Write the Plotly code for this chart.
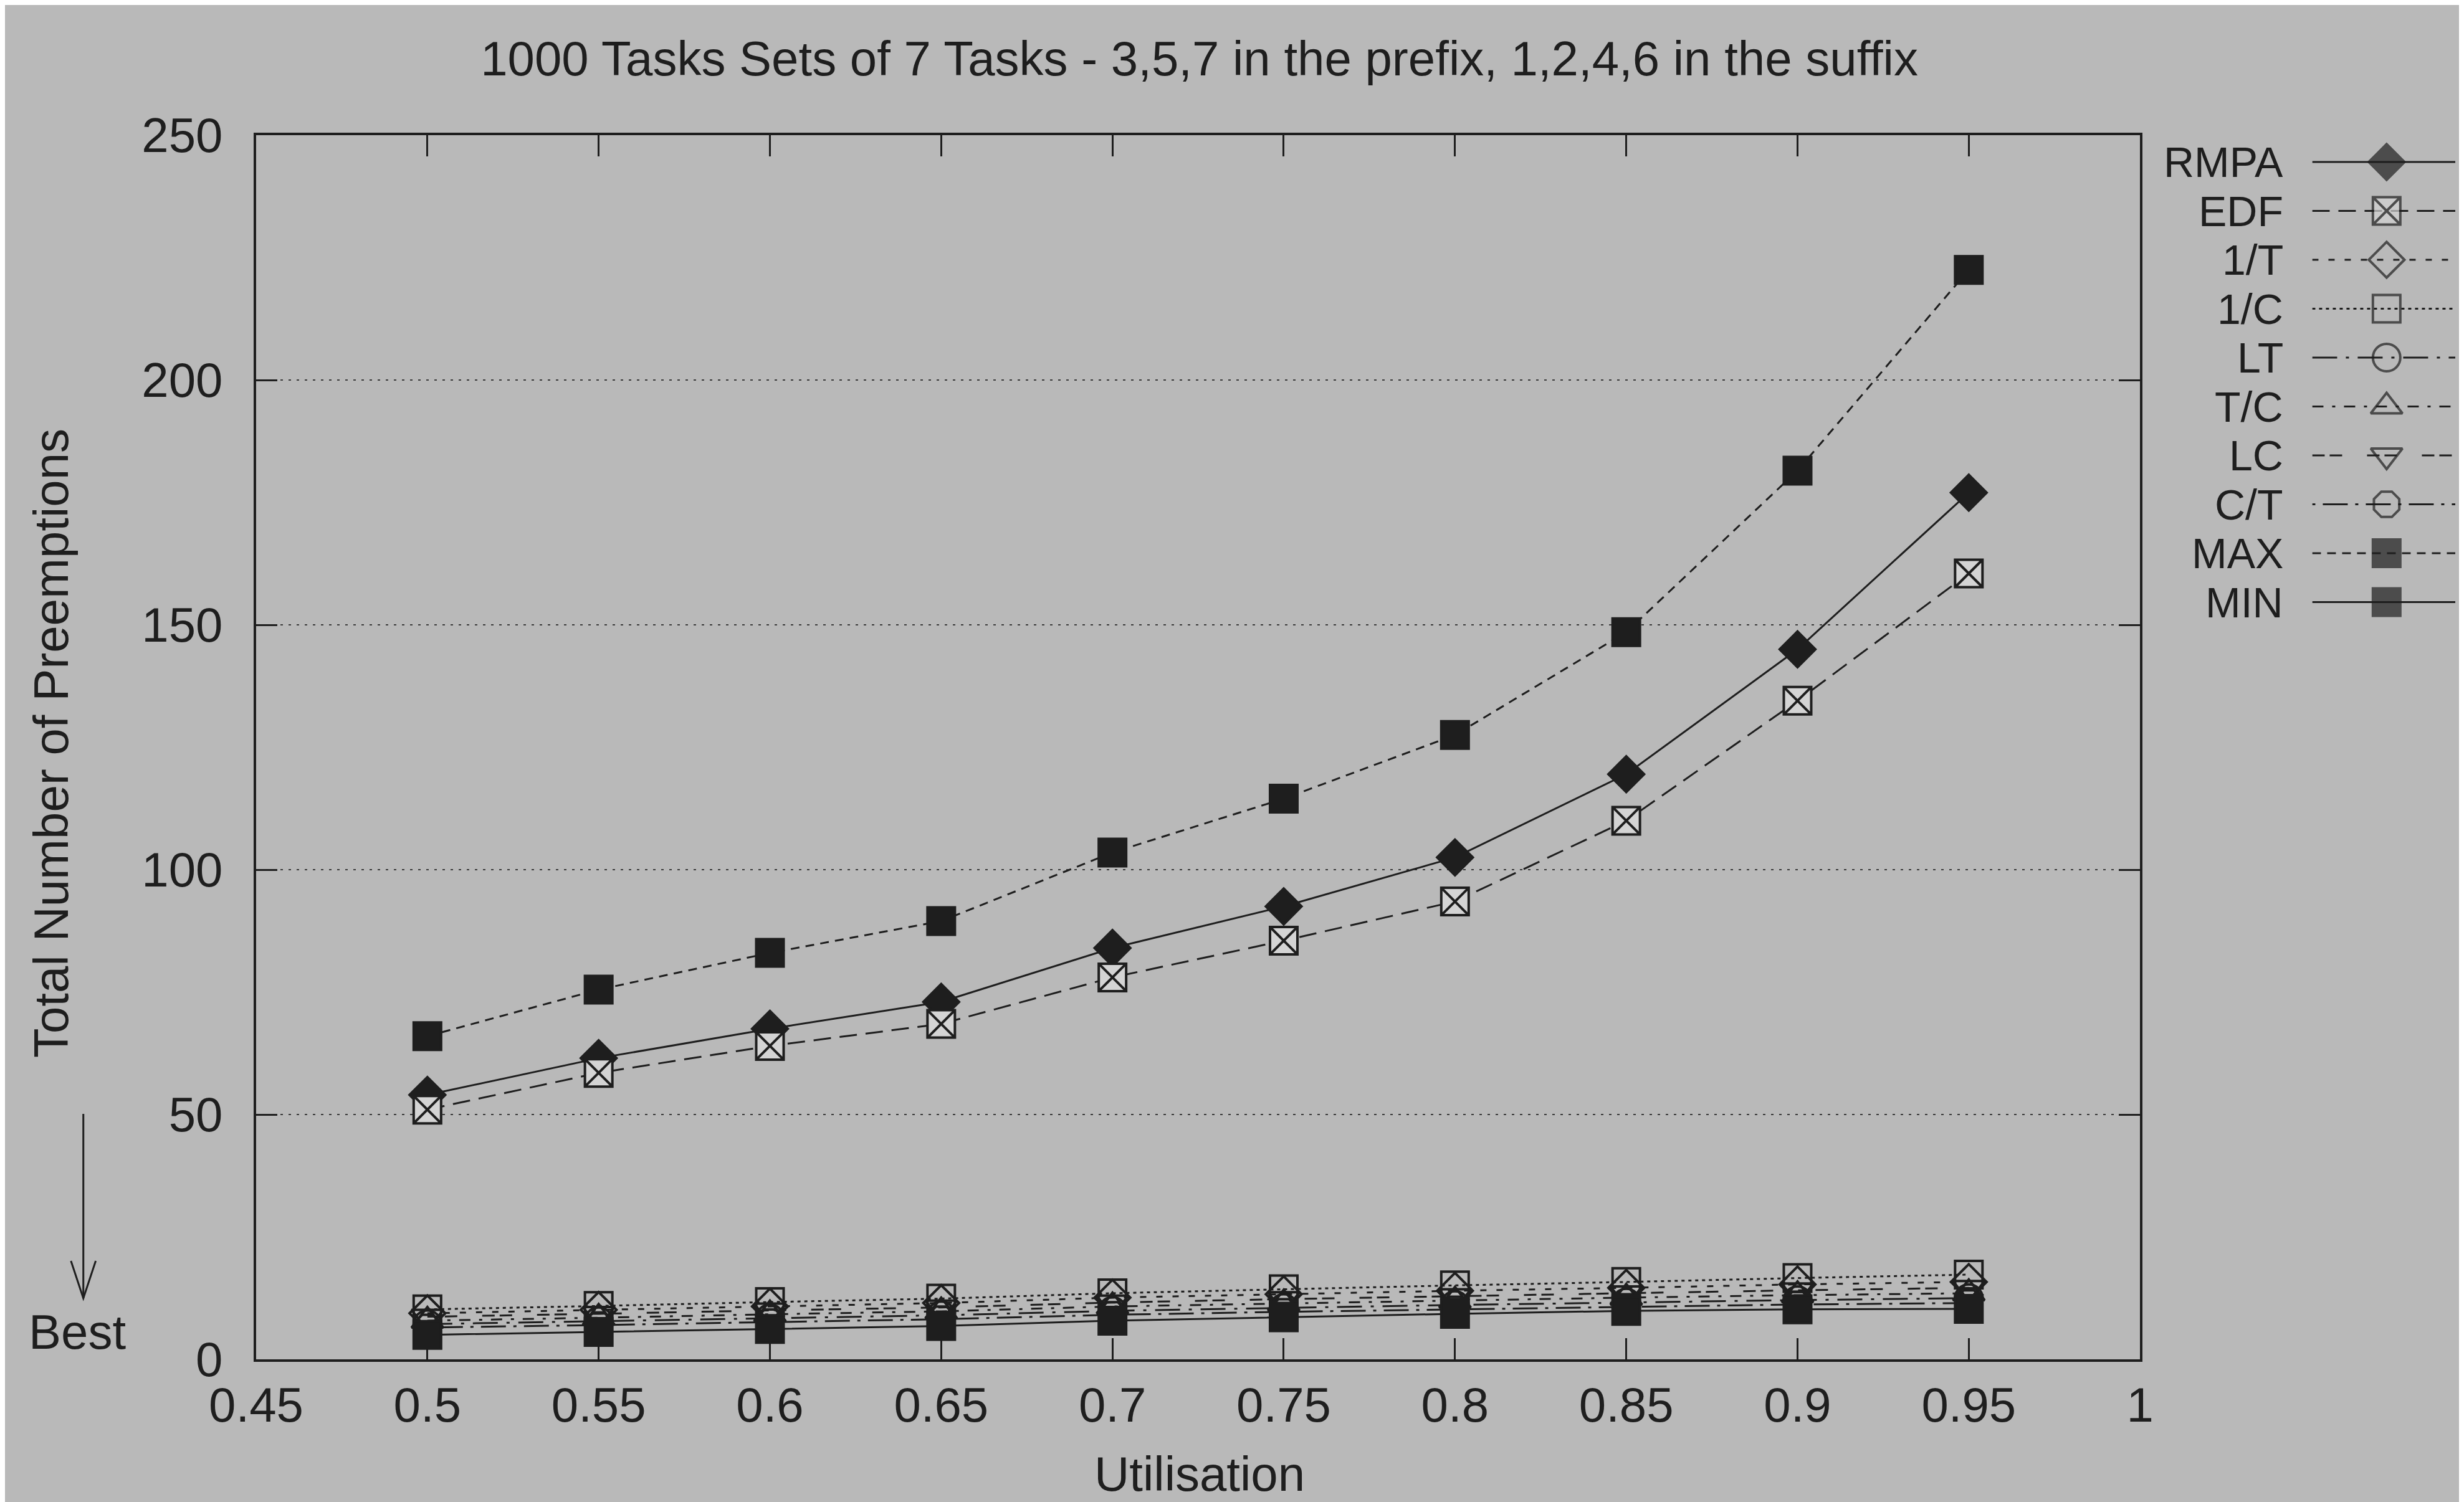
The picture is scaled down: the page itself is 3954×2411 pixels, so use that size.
import plotly.graph_objects as go

# ---------------- data ----------------
utilisation = [0.5, 0.55, 0.6, 0.65, 0.7, 0.75, 0.8, 0.85, 0.9, 0.95]
series_names = ["RMPA", "EDF", "1/T", "1/C", "LT", "T/C", "LC", "C/T", "MAX", "MIN"]
rmpa = [54, 61.5, 67.5, 73, 84, 92.5, 102.5, 119.5, 145, 177]
edf = [51, 58.5, 64, 68.5, 78, 85.5, 93.5, 110, 134.5, 160.5]
inv_t = [9.4, 10.1, 10.8, 11.5, 12.6, 13.3, 14.0, 14.6, 15.3, 15.8]
inv_c = [10.2, 10.9, 11.7, 12.4, 13.5, 14.3, 15.1, 15.8, 16.6, 17.3]
lt = [7.2, 7.8, 8.4, 9.0, 9.9, 10.5, 11.1, 11.6, 12.1, 12.5]
t_over_c = [7.9, 8.5, 9.2, 9.8, 10.8, 11.4, 12.0, 12.6, 13.1, 13.5]
lc = [8.7, 9.3, 10.0, 10.6, 11.6, 12.3, 12.9, 13.5, 14.1, 14.6]
c_over_t = [6.5, 7.0, 7.6, 8.2, 9.1, 9.7, 10.2, 10.7, 11.2, 11.5]
max_vals = [66, 75.5, 83, 89.5, 103.5, 114.5, 127.5, 148.5, 181.5, 222.5]
min_vals = [5.0, 5.6, 6.2, 6.8, 7.9, 8.6, 9.3, 9.9, 10.2, 10.3]
series_values = [rmpa, edf, inv_t, inv_c, lt, t_over_c, lc, c_over_t, max_vals, min_vals]

x_tick_vals = [0.45, 0.5, 0.55, 0.6, 0.65, 0.7, 0.75, 0.8, 0.85, 0.9, 0.95, 1.0]
x_tick_text = ["0.45", "0.5", "0.55", "0.6", "0.65", "0.7", "0.75", "0.8", "0.85", "0.9", "0.95", "1"]
y_tick_vals = [0, 50, 100, 150, 200, 250]

title_text = "1000 Tasks Sets of 7 Tasks - 3,5,7 in the prefix, 1,2,4,6 in the suffix"

# ---------------- style ----------------
W, H = 3954, 2411
ML, MT, MB, MR = 403, 209, 237, 0
PLOT_RIGHT = 3445
PAPER_W = W - ML - MR
PAPER_H = H - MT - MB
BG = "#b9b9b9"
INK = "#1e1e1e"
FONT = "Liberation Sans, Arial, Helvetica, sans-serif"
FS = 78
LEG_FS = 68
MS = 44

def px_x(px):
    return (px - ML) / PAPER_W

def px_y(py):
    return 1 - (py - MT) / PAPER_H

styles = {
    "RMPA": dict(symbol="diamond", dash="solid", fill=INK, lw=3),
    "EDF": dict(symbol="square-x", dash="28px,14px", fill="#d4d4d4", lw=3),
    "1/T": dict(symbol="diamond-open", dash="10px,16px", fill=INK, lw=3),
    "1/C": dict(symbol="square-open", dash="5px,6px", fill=INK, lw=3),
    "LT": dict(symbol="circle-open", dash="40px,14px,5px,14px", fill=INK, lw=3),
    "T/C": dict(symbol="triangle-up-open", dash="18px,14px,5px,14px", fill=INK, lw=3),
    "LC": dict(symbol="triangle-down-open", dash="20px,8px,20px,40px", fill=INK, lw=3),
    "C/T": dict(symbol="octagon-open", dash="5px,12px,40px,12px", fill=INK, lw=3),
    "MAX": dict(symbol="square", dash="14px,10px", fill=INK, lw=3),
    "MIN": dict(symbol="square", dash="solid", fill=INK, lw=3),
}

fig = go.Figure()

for name, vals in zip(series_names, series_values):
    st = styles[name]
    fig.add_trace(go.Scatter(
        x=utilisation, y=vals, name=name, mode="lines+markers",
        line=dict(color=INK, width=st["lw"], dash=st["dash"]),
        marker=dict(symbol=st["symbol"], size=MS, color=st["fill"] if "open" not in st["symbol"] else INK,
                    line=dict(color=INK, width=4)),
        showlegend=False, xaxis="x", yaxis="y",
    ))

# custom gnuplot-style key (text right-aligned, sample to its right)
legend_text_x = px_x(3678)
for i, name in enumerate(series_names):
    st = styles[name]
    fig.add_trace(go.Scatter(
        x=[0, 0.52, 1.2], y=[i, i, i], mode="lines+markers",
        line=dict(color=INK, width=st["lw"], dash=st["dash"]),
        marker=dict(symbol=st["symbol"], size=[0, MS, 0],
                    color=st["fill"] if "open" not in st["symbol"] else INK,
                    line=dict(color=INK, width=4)),
        showlegend=False, xaxis="x2", yaxis="y2", hoverinfo="skip", cliponaxis=False,
    ))
    fig.add_annotation(text=name, xref="paper", yref="y2", x=legend_text_x, y=i,
                       xanchor="right", yanchor="middle", showarrow=False,
                       font=dict(family=FONT, size=LEG_FS, color=INK))

row0 = 252
row_step = 78.5
y2_top = (MT - row0) / row_step
y2_bot = (MT + PAPER_H - row0) / row_step

# Best arrow
arrow_x = px_x(124)
shapes = [
    dict(type="line", xref="paper", yref="paper", x0=arrow_x, x1=arrow_x,
         y0=px_y(1780), y1=px_y(2076), line=dict(color=INK, width=3)),
    dict(type="path", xref="paper", yref="paper",
         path=f"M {px_x(104)} {px_y(2016)} L {arrow_x} {px_y(2076)} L {px_x(144)} {px_y(2016)}",
         line=dict(color=INK, width=3)),
]

fig.add_annotation(text="Best", xref="paper", yref="paper", x=px_x(114), y=px_y(2130),
                   xanchor="center", yanchor="middle", showarrow=False,
                   font=dict(family=FONT, size=FS, color=INK))
fig.add_annotation(text="Total Number of Preemptions", xref="paper", yref="paper",
                   x=px_x(72), y=px_y(1185), textangle=-90,
                   xanchor="center", yanchor="middle", showarrow=False,
                   font=dict(family=FONT, size=FS, color=INK))
fig.add_annotation(text="Utilisation", xref="paper", yref="paper",
                   x=px_x(1926), y=px_y(2358),
                   xanchor="center", yanchor="middle", showarrow=False,
                   font=dict(family=FONT, size=FS, color=INK))

axis_common = dict(
    showline=True, linecolor=INK, linewidth=4, mirror="allticks",
    ticks="inside", ticklen=34, tickwidth=3, tickcolor=INK,
    tickfont=dict(family=FONT, size=FS, color=INK), zeroline=False,
)

fig.update_layout(
    width=W, height=H,
    margin=dict(l=ML, r=MR, t=MT, b=MB),
    paper_bgcolor=BG, plot_bgcolor=BG,
    font=dict(family=FONT, size=FS, color=INK),
    title=dict(text=title_text, x=px_x(1926), xref="paper", xanchor="center",
               y=1 - 86 / H, yref="container", yanchor="middle",
               font=dict(family=FONT, size=FS, color=INK)),
    xaxis=dict(domain=[0, px_x(PLOT_RIGHT)], range=[0.45, 1.0],
               tickmode="array", tickvals=x_tick_vals, ticktext=x_tick_text,
               showgrid=False, ticklabelstandoff=2, **axis_common),
    yaxis=dict(range=[0, 250], tickmode="array", tickvals=y_tick_vals,
               showgrid=True, gridcolor="#3a3a3a", gridwidth=2, griddash="4px,9px",
               ticklabelstandoff=34, **axis_common),
    xaxis2=dict(domain=[px_x(3723), 1], range=[0, 1], visible=False, anchor="y2"),
    yaxis2=dict(domain=[0, 1], range=[y2_bot, y2_top], visible=False, anchor="x2"),
    shapes=shapes,
)

fig.write_html("out.html")
